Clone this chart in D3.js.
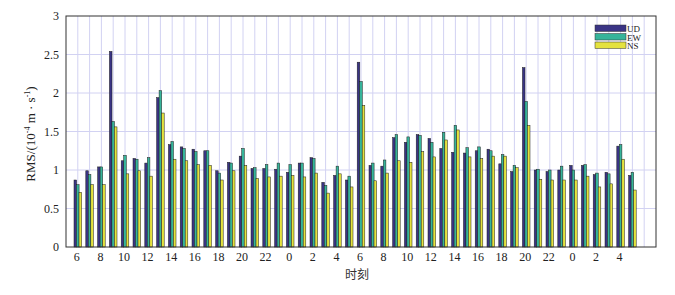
<!DOCTYPE html>
<html lang="zh">
  <head>
    <meta charset="utf-8" />
    <script src="https://d3js.org/d3.v7.min.js"></script>
    <style>
      body { margin: 0; background: #fff; }
      text { font-family: "Liberation Serif", "Times New Roman", serif; }
    </style>
  </head>
  <body>
    <script>
      // hour of each group (two days, 6:00 -> 5:00)
      var hours = [6, 7, 8, 9, 10, 11, 12, 13, 14, 15, 16, 17, 18, 19, 20, 21, 22, 23, 0, 1, 2, 3, 4, 5,
                   6, 7, 8, 9, 10, 11, 12, 13, 14, 15, 16, 17, 18, 19, 20, 21, 22, 23, 0, 1, 2, 3, 4, 5];

      var ud = [0.87, 0.99, 1.04, 2.54, 1.12, 1.15, 1.09, 1.94, 1.33, 1.30, 1.27, 1.25, 0.99, 1.10,
                1.18, 1.02, 1.02, 1.01, 0.97, 1.09, 1.16, 0.84, 0.93, 0.87,
                2.40, 1.06, 1.05, 1.42, 1.36, 1.46, 1.41, 1.28, 1.23, 1.22, 1.25, 1.27, 1.08, 0.98,
                2.33, 1.00, 0.98, 1.00, 1.06, 1.06, 0.94, 0.97, 1.31, 0.93];
      var ew = [0.81, 0.94, 1.04, 1.63, 1.19, 1.14, 1.16, 2.03, 1.37, 1.28, 1.24, 1.25, 0.96, 1.09,
                1.28, 1.03, 1.07, 1.09, 1.07, 1.09, 1.15, 0.80, 1.05, 0.92,
                2.15, 1.09, 1.13, 1.46, 1.43, 1.45, 1.36, 1.49, 1.58, 1.29, 1.30, 1.25, 1.20, 1.06,
                1.89, 1.01, 1.00, 1.05, 1.00, 1.07, 0.96, 0.95, 1.33, 0.97];
      var ns = [0.71, 0.81, 0.81, 1.56, 0.95, 0.99, 0.92, 1.74, 1.14, 1.12, 1.07, 1.06, 0.87, 0.99,
                1.06, 0.89, 0.91, 0.92, 0.93, 0.91, 0.96, 0.70, 0.95, 0.78,
                1.84, 0.86, 0.96, 1.12, 1.10, 1.24, 1.17, 1.39, 1.52, 1.17, 1.15, 1.18, 1.18, 1.03,
                1.58, 0.88, 0.87, 0.87, 0.87, 0.92, 0.78, 0.82, 1.14, 0.74];

      var seriesNames = ["UD", "EW", "NS"];
      var seriesColors = ["#3a3485", "#36b49a", "#e4e23e"];
      var yTicks = [0, 0.5, 1, 1.5, 2, 2.5, 3];

      var width = 675,
        height = 295;
      var plotL = 66, plotR = 656, plotT = 16, plotB = 247;

      var svg = d3.select("body").append("svg")
        .attr("width", width)
        .attr("height", height);

      var x = d3.scaleLinear().domain([0, 50]).range([plotL, plotR]);
      var y = d3.scaleLinear().domain([0, 3]).range([plotB, plotT]);

      // grid
      svg.append("g")
        .selectAll("line")
        .data(d3.range(1, 50))
        .join("line")
        .attr("x1", d => x(d)).attr("x2", d => x(d))
        .attr("y1", plotT).attr("y2", plotB)
        .attr("stroke", "#d2d2f2").attr("stroke-width", 1);
      svg.append("g")
        .selectAll("line")
        .data(yTicks.slice(1, -1))
        .join("line")
        .attr("x1", plotL).attr("x2", plotR)
        .attr("y1", d => y(d)).attr("y2", d => y(d))
        .attr("stroke", "#d2d2f2").attr("stroke-width", 1);

      // bars
      var data = [ud, ew, ns];
      var barW = 2.6;
      data.forEach(function (vals, s) {
        svg.append("g")
          .selectAll("rect")
          .data(vals)
          .join("rect")
          .attr("x", (d, i) => x(i + 1) + (s - 1) * 2.5 - barW / 2)
          .attr("y", d => y(d))
          .attr("width", barW)
          .attr("height", d => y(0) - y(d))
          .attr("fill", seriesColors[s])
          .attr("stroke", "#1e1e1e")
          .attr("stroke-width", 0.5);
      });

      // axes box
      svg.append("rect")
        .attr("x", plotL).attr("y", plotT)
        .attr("width", plotR - plotL).attr("height", plotB - plotT)
        .attr("fill", "none").attr("stroke", "#333").attr("stroke-width", 1);

      // y tick labels
      svg.append("g")
        .selectAll("text")
        .data(yTicks)
        .join("text")
        .attr("x", plotL - 7)
        .attr("y", d => y(d) + 4)
        .attr("text-anchor", "end")
        .attr("font-size", 12)
        .attr("fill", "#222")
        .text(d => d);

      // x tick labels (every second hour)
      svg.append("g")
        .selectAll("text")
        .data(hours.filter((h, i) => i % 2 === 0).map((h, k) => ({ h: h, pos: 2 * k + 1 })))
        .join("text")
        .attr("x", d => x(d.pos) - 1)
        .attr("y", 261)
        .attr("text-anchor", "middle")
        .attr("font-size", 12)
        .attr("fill", "#222")
        .text(d => d.h);

      // axis titles
      svg.append("text")
        .attr("x", 357).attr("y", 279)
        .attr("text-anchor", "middle")
        .attr("font-size", 12)
        .attr("fill", "#333")
        .style("font-family", "'Noto Sans CJK SC', sans-serif")
        .text("时刻");

      var yl = svg.append("text")
        .attr("transform", "translate(35,134) rotate(-90)")
        .attr("text-anchor", "middle")
        .attr("font-size", 13)
        .attr("fill", "#222");
      yl.append("tspan").text("RMS/(10");
      yl.append("tspan").attr("font-size", 8).attr("dy", -5).text("-4");
      yl.append("tspan").attr("dy", 5).text(" m · s");
      yl.append("tspan").attr("font-size", 8).attr("dy", -5).text("-1");
      yl.append("tspan").attr("dy", 5).text(")");

      // legend
      var lg = svg.append("g").attr("transform", "translate(595,25)");
      seriesNames.forEach(function (name, i) {
        lg.append("rect")
          .attr("x", 0).attr("y", i * 8.5)
          .attr("width", 31).attr("height", 6.5)
          .attr("fill", seriesColors[i])
          .attr("stroke", "#333").attr("stroke-width", 0.5);
        lg.append("text")
          .attr("x", 32).attr("y", i * 8.5 + 7)
          .attr("font-size", 9)
          .attr("fill", "#222")
          .text(name);
      });
    </script>
  </body>
</html>
